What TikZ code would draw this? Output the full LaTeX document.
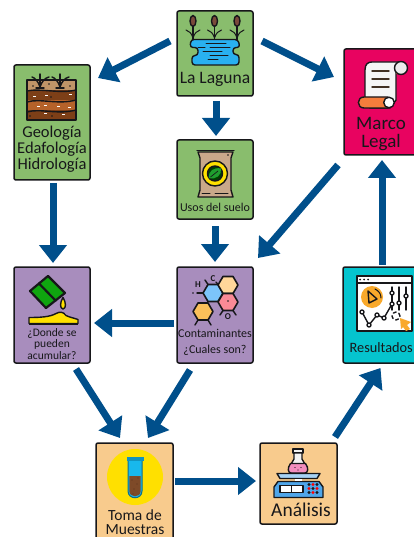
\documentclass[tikz,border=0pt]{standalone}
\usepackage{fontspec}
\setmainfont{Carlito}
\usetikzlibrary{arrows.meta,calc}
\definecolor{boxgreen}{HTML}{89BD6D}
\definecolor{boxpurple}{HTML}{A88DBD}
\definecolor{boxpeach}{HTML}{F8CB8D}
\definecolor{boxteal}{HTML}{05C4CE}
\definecolor{boxpink}{HTML}{E80360}
\definecolor{arrowblue}{HTML}{004F8B}
\definecolor{ink}{HTML}{17171A}
\definecolor{water}{HTML}{29B0F0}
\definecolor{reed}{HTML}{7A4A3A}
\definecolor{soila}{HTML}{BF9468}
\definecolor{soilb}{HTML}{7D3F17}
\definecolor{soilc}{HTML}{B5622A}
\definecolor{bagtan}{HTML}{C9A88A}
\definecolor{leafg}{HTML}{1F9E2E}
\definecolor{signy}{HTML}{FFE000}
\definecolor{rollor}{HTML}{F57D3C}
\definecolor{hexb}{HTML}{7CC4FA}
\definecolor{hexo}{HTML}{FFD79A}
\definecolor{hexp}{HTML}{FA8A96}
\definecolor{hexy}{HTML}{FBC05A}
\definecolor{tubeb}{HTML}{18B8EC}
\definecolor{muck}{HTML}{7E4A28}
\definecolor{pinkliq}{HTML}{F28DBE}
\definecolor{scaleb}{HTML}{4FA6EA}
\definecolor{orb}{HTML}{F9A92B}
\definecolor{barrel}{HTML}{0FA50F}
\tikzset{
  card/.style={draw=ink,line width=1.5pt,rounded corners=2pt,inner sep=0pt,outer sep=0pt,minimum width=#1},
  flow/.style={draw=arrowblue,line width=7pt,-{Triangle[length=18pt,width=27pt]}},
  lab/.style={inner sep=0pt,text=ink,align=center},
  ic/.style={draw=ink,line width=1.4pt,line join=round,line cap=round},
  thinic/.style={draw=ink,line width=1pt,line cap=round}
}
\begin{document}
\begin{tikzpicture}[x=1pt,y=-1pt]
\useasboundingbox (0,0) rectangle (414,537);
\clip (0,0) rectangle (414,537);
% cards
\node[card=76pt,minimum height=85pt,fill=boxgreen] (lag) at (215,53.5) {};
\node[card=76pt,minimum height=115pt,fill=boxgreen] (geo) at (52,122.5) {};
\node[card=76pt,minimum height=79pt,fill=boxgreen] (uso) at (215,179.5) {};
\node[card=77pt,minimum height=106pt,fill=boxpink] (mar) at (382.5,102) {};
\node[card=76pt,minimum height=96pt,fill=boxpurple] (don) at (52,315) {};
\node[card=76pt,minimum height=96pt,fill=boxpurple] (con) at (215,315) {};
\node[card=77pt,minimum height=96pt,fill=boxteal] (res) at (381.5,315) {};
\node[card=77pt,minimum height=107pt,fill=boxpeach] (tom) at (134.5,496.5) {};
\node[card=77pt,minimum height=81pt,fill=boxpeach] (ana) at (298.5,483.5) {};
% connectors
\draw[flow] ($(lag.west)+(-7,-12.5)$) -- ($(geo.north east)+(8,13)$);
\draw[flow] ($(lag.south)+(1,5)$) -- ($(uso.north)+(1,-4)$);
\draw[flow] ($(lag.east)+(9,-12.5)$) -- ($(mar.west)+(-10,-25)$);
\draw[flow] ($(geo.south)+(1,3)$) -- ($(don.north)+(1,-4)$);
\draw[flow] ($(uso.south)+(0,7)$) -- ($(con.north)+(0,-5)$);
\draw[flow] ($(mar.south)+(-44.5,10)$) -- ($(con.north east)+(5,-9)$);
\draw[flow] ($(res.north)+(0.5,-2)$) -- ($(mar.south)+(-0.5,5)$);
\draw[flow] ($(con.west)+(-3,8)$) -- ($(don.east)+(4,8)$);
\draw[flow] ($(don.south)+(24,6)$) -- ($(tom.north)+(-14.5,-5)$);
\draw[flow] ($(con.south)+(-25,7)$) -- ($(tom.north)+(13.5,-5)$);
\draw[flow] ($(tom.east)+(2,-15.5)$) -- ($(ana.west)+(-4,-2.5)$);
\draw[flow] ($(ana.north)+(36.5,-6)$) -- ($(res.south)+(-1,5)$);
% labels
\node[lab,font=\fontsize{17.5}{17}\selectfont] (tlag) at (215,79) {La Laguna};
\node[lab,font=\fontsize{16.5}{16}\selectfont] (tgeo) at (52,149) {Geología\\Edafología\\Hidrología};
\node[lab,font=\fontsize{12}{12}\selectfont] (tuso) at (215,207) {Usos del suelo};
\node[lab,font=\fontsize{19}{18}\selectfont] (tmar) at (381,134.5) {Marco\\Legal};
\node[lab,font=\fontsize{11.5}{11.5}\selectfont] (tdon) at (52,344) {¿Donde se\\pueden\\acumular?};
\node[lab,font=\fontsize{12}{12}\selectfont] (tcon) at (215,333) {Contaminantes};
\node[lab,font=\fontsize{12}{12}\selectfont] (tcua) at (215,350) {¿Cuales son?};
\node[lab,font=\fontsize{14.3}{16}\selectfont,anchor=west] (tres) at (349.5,347.5) {Resultados};
\node[lab,font=\fontsize{15.5}{14.5}\selectfont] (ttom) at (135,522) {Toma de\\Muestras};
\node[lab,font=\fontsize{19.5}{19}\selectfont] (tana) at (301,510) {Análisis};
% --- lagoon icon
\foreach \xx in {193,214.5,237}{
  \draw[ic] (\xx,24) -- (\xx,40);
  \draw[ic,fill=reed] (\xx,21) ellipse (3pt and 5.5pt);
  \draw[thinic] (\xx,38) .. controls (\xx-1.5,33) and (\xx-4,31) .. (\xx-7,30);
  \draw[thinic] (\xx,38) .. controls (\xx+1.5,33) and (\xx+4,31) .. (\xx+7,30);
}
\draw[ic,fill=water,rounded corners=3pt] (191,39.5) -- (238,39.5) -- (240,47.5) -- (233,47.5) -- (233,54.5) -- (239,54.5) -- (239,65) -- (192,65) -- (192,55.5) -- (198,55.5) -- (198,47.5) -- (190,47.5) -- cycle;
\foreach \a/\b/\c in {206/226/43.5,198/205/47.5,210/230/47.5,203/222/51.5,210/228/55.5,208/218/60}{\draw[thinic] (\a,\c) -- (\b,\c);}
% --- soil icon
\fill[soila] (27,80) rectangle (76,91);
\fill[soilb] (27,90) rectangle (76,101);
\fill[soilc] (27,100) rectangle (76,111);
\fill[soilb] (27,110) rectangle (76,120);
\draw[ic] (27,80) rectangle (76,120);
\draw[ic] (27,91) .. controls (40,88) and (60,94) .. (76,90);
\draw[ic] (27,102) .. controls (40,98) and (58,105) .. (76,100);
\draw[ic] (27,112) .. controls (40,108) and (58,115) .. (76,110);
\foreach \xx in {40,60}{
  \draw[ic] (\xx,87) -- (\xx,74);
  \draw[ic] (\xx,87) .. controls (\xx-2,81) and (\xx-5,78) .. (\xx-8,77);
  \draw[ic] (\xx,87) .. controls (\xx+2,81) and (\xx+5,78) .. (\xx+9,77);
  \draw[ic] (\xx-4,88) -- (\xx+4,88);
}
\foreach \p in {(33,96),(45,95),(69,94),(37,106),(44,105),(57,106),(68,107),(62,114),(44,113)}{\fill[white] \p rectangle +(2.5,1.5);}
\foreach \p in {(49,84),(33,86),(70,86),(51,97),(30,116),(52,116)}{\fill[ink] \p circle (0.9pt);}
% --- bag icon
\draw[ic,fill=bagtan] (198,152) -- (233,152) -- (231,158) -- (231,190) -- (233,197) -- (198,197) -- (200,190) -- (200,158) -- cycle;
\draw[ic] (197,150.5) -- (234,150.5);
\draw[thinic] (202,194) -- (210,194);
\draw[thinic] (215,194) -- (228,194);
\fill[ink] (228,155) circle (0.8pt);
\draw[ic,fill=signy] (215,173.5) circle (12.5pt);
\draw[ic,fill=black!75!green] (215,173.5) circle (7.5pt);
\fill[leafg] (209,178) .. controls (208,171) and (214,167) .. (221,168.5) .. controls (222,175) and (216,180) .. (209,178) -- cycle;
\draw[draw=ink,line width=0.7pt] (210.5,177) -- (218,171);
% --- scroll icon
\draw[ic,fill=white!92!gray] (365,97) -- (365,70) .. controls (365,64) and (368,62) .. (372,62) -- (401,62) -- (396,68) -- (396,100) -- (390,108) -- (370,108) -- cycle;
\fill[rollor] (396,71) rectangle (403,74.5);
\draw[ic,fill=white!85!gray] (401,68) circle (6.5pt);
\draw[ic,fill=rollor] (388,97) -- (364,97) .. controls (356.5,97) and (356.5,108) .. (364,108) -- (388,108) -- cycle;
\draw[ic,fill=white] (389,102.5) circle (5.3pt);
\foreach \yy in {71,79,87}{\draw[ic,draw=ink!75!brown] (372,\yy) -- (389,\yy);}
% --- barrel icon
\draw[ic,line width=2.2pt,fill=barrel] (48,276) -- (65,293) -- (46,308) -- (30,291) -- cycle;
\draw[ic,line width=2.2pt] (39,283.5) -- (55.5,300.5);
\draw[ic,fill=signy] (63,297.5) .. controls (60,302) and (59.5,308.5) .. (63,309) .. controls (66.5,308.5) and (66,302) .. (63,297.5) -- cycle;
\draw[ic,fill=signy] (29,323.5) -- (29,317.5) .. controls (40,317.5) and (50,317) .. (56,313.5) .. controls (60,311.5) and (63,311.5) .. (66,315.5) .. controls (70,317.5) and (74,318) .. (78,319.5) -- (78,323.5) -- cycle;
\draw[line width=2pt,draw=ink] (29,323.5) -- (78,323.5);
% --- hexagons
\foreach \cx/\cy/\cc in {213/293/hexb,228/285/hexo,228/302/hexp,203/311.5/hexy}{
  \draw[ic,line width=1.6pt,fill=\cc] (\cx+10,\cy) -- (\cx+5,\cy-8.5) -- (\cx-5,\cy-8.5) -- (\cx-10,\cy) -- (\cx-5,\cy+8.5) -- (\cx+5,\cy+8.5) -- cycle;
}
\draw[ic] (203,293) -- (197,293);
\draw[ic] (208,284.5) -- (205,280);
\draw[ic] (218,284.5) -- (216,282);
\draw[ic] (223,310.5) -- (220,315);
\draw[ic] (233,310.5) -- (236,315);
\draw[ic] (198,320) -- (195,325);
\draw[ic] (208,320) -- (211,325);
\node[lab,font=\bfseries\fontsize{9}{9}\selectfont] (th) at (198,285) {H};
\node[lab,font=\bfseries\fontsize{9}{9}\selectfont] (tc) at (213,279) {C};
\node[lab,font=\bfseries\fontsize{9}{9}\selectfont] (to) at (228,317) {O};
\fill[ink] (193,293) circle (0.8pt);
\fill[ink] (228,301) circle (0.8pt);
% --- test tube icon
\fill[signy] (135,477) circle (28pt);
\fill[tubeb] (128,458) -- (142,458) -- (142,491) .. controls (142,500) and (128,500) .. (128,491) -- cycle;
\fill[muck] (129.3,476) -- (140.7,476) -- (140.7,491) .. controls (140.7,498) and (129.3,498) .. (129.3,491) -- cycle;
\draw[line width=1pt,draw=tubeb!60!black] (128,458) -- (128,491) .. controls (128,500) and (142,500) .. (142,491) -- (142,458);
\fill[tubeb!80!black] (126.5,457) rectangle (143.5,460.5);
\foreach \p in {(132,480),(137,484),(134,489),(138,478),(133,494)}{\fill[muck!70!black] \p circle (0.7pt);}
% --- scale icon
\draw[ic,fill=white!90!gray] (293,449) rectangle (303,453);
\draw[ic,fill=white!90!gray] (294,453) -- (302,453) -- (302,459) -- (306,466) -- (290,466) -- (294,459) -- cycle;
\draw[ic,fill=pinkliq] (290.5,463.5) -- (305.5,463.5) .. controls (309,468) and (308,473) .. (305,473) -- (291,473) .. controls (288,473) and (287,468) .. (290.5,463.5) -- cycle;
\fill[ink] (295,467.5) circle (0.7pt);
\fill[ink] (301,467.5) circle (0.7pt);
\fill[ink] (298,470) circle (0.7pt);
\draw[ic,fill=scaleb!50!white] (277,473.5) -- (320,473.5) -- (317,478.5) -- (280,478.5) -- cycle;
\draw[ic,fill=scaleb] (278,481.5) -- (319,481.5) -- (323,487) -- (323,497.5) -- (274,497.5) -- (274,487) -- cycle;
\fill[white] (295,479) rectangle (302,481);
\draw[ic,fill=white] (280,485.5) rectangle (303,492.5);
\draw[thinic] (291.5,486) -- (291.5,492);
\foreach \a/\b/\cc in {309/484.5/ink,313/484.5/red,317/484.5/ink,309/488.5/red,313/488.5/ink,317/488.5/red,309/492.5/ink,313/492.5/red,317/492.5/ink}{\fill[\cc] (\a,\b) circle (1.6pt);}
% --- dashboard icon
\draw[ic,fill=white] (357,276) rectangle (412,331);
\draw[ic] (357,283) -- (412,283);
\foreach \xx in {360,364,368}{\fill[ink] (\xx,279.5) circle (1pt);}
\fill[orb] (372,297) circle (11pt);
\draw[ic] (368,291) -- (377,299) -- (369,303) -- cycle;
\draw[thinic] (375,289) .. controls (379,291) and (381,294) .. (381,298);
\foreach \xx in {392,399,406}{\draw[ic] (\xx,287) -- (\xx,310);}
\draw[ic,fill=white] (392,293) circle (2pt);
\draw[ic,fill=white] (399,303) circle (2pt);
\draw[ic,fill=white] (406,296) circle (2pt);
\draw[ic] (362,312) -- (369,325) -- (377,315) -- (384,318) -- (392,304);
\foreach \p in {(362,312),(369,325),(377,315),(384,318),(392,304)}{\draw[ic,fill=white] \p circle (2pt);}
\draw[ic,dashed] (396,316) circle (4pt);
\fill[orb] (400,318) -- (411,322) -- (407,325) -- (410,329) -- (406,331) -- (403,327) -- (401,329) -- cycle;
\end{tikzpicture}
\end{document}
